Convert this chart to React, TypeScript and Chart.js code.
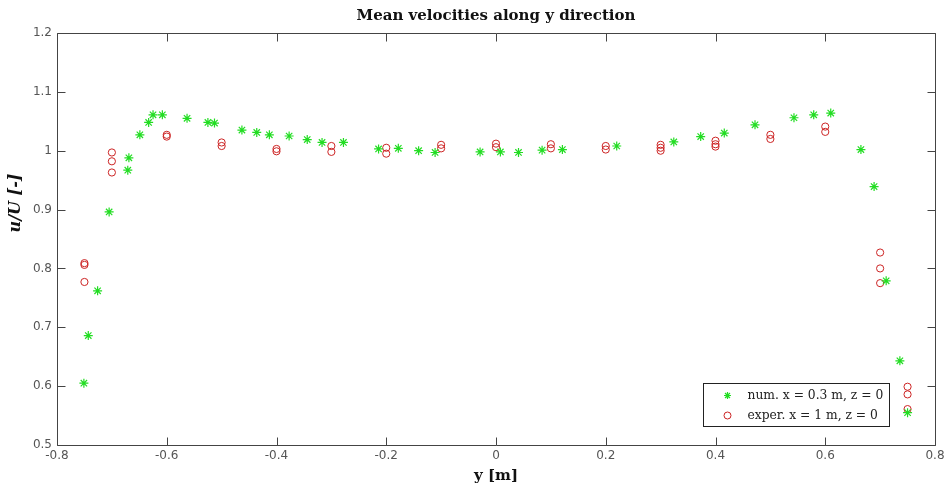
import React, { useEffect, useRef } from "react";
import { Chart, registerables } from "chart.js";
Chart.register(...registerables);

const TITLE = "Mean velocities along y direction";
const X_TITLE = "y [m]";
const Y_TITLE = "u/U [-]";
const NUM_LABEL = "num. x = 0.3 m, z = 0";
const EXP_LABEL = "exper. x = 1 m, z = 0";

const numY = [-0.751, -0.743, -0.726, -0.705, -0.671, -0.669, -0.649, -0.633, -0.625, -0.608, -0.563, -0.525, -0.513, -0.463, -0.436, -0.413, -0.377, -0.344, -0.317, -0.278, -0.214, -0.178, -0.141, -0.111, -0.029, 0.008, 0.041, 0.084, 0.121, 0.22, 0.324, 0.373, 0.416, 0.472, 0.543, 0.579, 0.61, 0.665, 0.689, 0.711, 0.736, 0.75];
const numU = [0.605, 0.686, 0.762, 0.896, 0.967, 0.988, 1.027, 1.048, 1.061, 1.061, 1.055, 1.048, 1.047, 1.035, 1.031, 1.027, 1.025, 1.019, 1.014, 1.014, 1.003, 1.004, 1.0, 0.997, 0.998, 0.998, 0.997, 1.001, 1.002, 1.008, 1.015, 1.024, 1.03, 1.044, 1.056, 1.061, 1.064, 1.002, 0.939, 0.779, 0.643, 0.555];

const expY = [-0.75, -0.75, -0.75, -0.7, -0.7, -0.7, -0.6, -0.6, -0.5, -0.5, -0.4, -0.4, -0.3, -0.3, -0.2, -0.2, -0.1, -0.1, 0, 0, 0.1, 0.1, 0.2, 0.2, 0.3, 0.3, 0.3, 0.4, 0.4, 0.4, 0.5, 0.5, 0.6, 0.6, 0.7, 0.7, 0.7, 0.75, 0.75, 0.75];
const expU = [0.809, 0.806, 0.777, 0.997, 0.982, 0.963, 1.027, 1.024, 1.014, 1.008, 1.003, 0.999, 1.008, 0.998, 1.005, 0.995, 1.01, 1.004, 1.012, 1.006, 1.011, 1.004, 1.008, 1.002, 1.01, 1.005, 1.0, 1.017, 1.011, 1.007, 1.027, 1.02, 1.041, 1.032, 0.827, 0.8, 0.775, 0.599, 0.586, 0.561];

const X_MIN = -0.8, X_MAX = 0.8, X_STEP = 0.2;
const Y_MIN = 0.5, Y_MAX = 1.2, Y_STEP = 0.1;

const GREEN = "#22dd22";
const RED = "#cc2424";
const AXIS = "#444444";
const SERIF = '"DejaVu Serif", "Liberation Serif", serif';
const SANS = '"DejaVu Sans", "Liberation Sans", sans-serif';

function drawStar(ctx: CanvasRenderingContext2D, x: number, y: number, r: number) {
  ctx.beginPath();
  ctx.moveTo(x - r, y); ctx.lineTo(x + r, y);
  ctx.moveTo(x, y - r); ctx.lineTo(x, y + r);
  const d = r * Math.SQRT1_2;
  ctx.moveTo(x - d, y - d); ctx.lineTo(x + d, y + d);
  ctx.moveTo(x - d, y + d); ctx.lineTo(x + d, y - d);
  ctx.stroke();
}

const framePlugin = {
  id: "matlabFrame",
  afterDraw(chart: any) {
    const { ctx, chartArea: a, scales } = chart;
    const xs = scales.x, ys = scales.y;
    const L = Math.round(a.left) + 0.5, R = Math.round(a.right) + 0.5;
    const T = Math.round(a.top) + 0.5, B = Math.round(a.bottom) + 0.5;
    const TL = 8;
    ctx.save();
    ctx.strokeStyle = AXIS;
    ctx.lineWidth = 1;
    ctx.beginPath();
    ctx.rect(L, T, R - L, B - T);
    xs.ticks.forEach((t: any) => {
      const px = Math.round(xs.getPixelForValue(t.value)) + 0.5;
      ctx.moveTo(px, B); ctx.lineTo(px, B - TL);
      ctx.moveTo(px, T); ctx.lineTo(px, T + TL);
    });
    ys.ticks.forEach((t: any) => {
      const py = Math.round(ys.getPixelForValue(t.value)) + 0.5;
      ctx.moveTo(L, py); ctx.lineTo(L + TL, py);
      ctx.moveTo(R, py); ctx.lineTo(R - TL, py);
    });
    ctx.stroke();

    // title
    ctx.fillStyle = "#111";
    ctx.font = `bold 15px ${SERIF}`;
    ctx.textAlign = "center";
    ctx.textBaseline = "middle";
    ctx.fillText(TITLE, (a.left + a.right) / 2, 16);

    // y axis title
    ctx.save();
    ctx.translate(16, 203);
    ctx.rotate(-Math.PI / 2);
    ctx.font = `italic bold 16px ${SERIF}`;
    ctx.fillText(Y_TITLE, 0, 0);
    ctx.restore();

    // legend
    const bx = Math.round(a.right) - 232 + 0.5, by = Math.round(a.bottom) - 62 + 0.5;
    const bw = 186, bh = 43;
    ctx.fillStyle = "#fff";
    ctx.fillRect(bx, by, bw, bh);
    ctx.strokeStyle = "#222";
    ctx.strokeRect(bx, by, bw, bh);
    const mx = bx + 24;
    const y1 = by + 12, y2 = by + 32;
    ctx.strokeStyle = GREEN;
    ctx.lineWidth = 1.2;
    drawStar(ctx, mx, y1, 3.5);
    ctx.lineWidth = 1;
    ctx.strokeStyle = RED;
    ctx.beginPath();
    ctx.arc(mx, y2, 3.5, 0, Math.PI * 2);
    ctx.stroke();
    ctx.fillStyle = "#222";
    ctx.font = `12.3px ${SERIF}`;
    ctx.textAlign = "left";
    ctx.textBaseline = "middle";
    ctx.fillText(NUM_LABEL, bx + 44, y1);
    ctx.fillText(EXP_LABEL, bx + 44, y2);
    ctx.restore();
  },
};

export default function App() {
  const ref = useRef<HTMLCanvasElement | null>(null);
  useEffect(() => {
    if (!ref.current) return;
    const chart = new Chart(ref.current, {
      type: "scatter",
      data: {
        datasets: [
          {
            label: NUM_LABEL,
            data: numY.map((x, i) => ({ x, y: numU[i] })),
            pointStyle: "star",
            pointRadius: 4.5,
            borderColor: GREEN,
            backgroundColor: GREEN,
            pointBorderWidth: 1.2,
          },
          {
            label: EXP_LABEL,
            data: expY.map((x, i) => ({ x, y: expU[i] })),
            pointStyle: "circle",
            pointRadius: 3.6,
            borderColor: RED,
            backgroundColor: "rgba(0,0,0,0)",
            pointBorderWidth: 1,
          },
        ],
      },
      options: {
        responsive: false,
        animation: false,
        layout: { padding: { top: 33, right: 10, left: 0, bottom: 0 } },
        plugins: {
          legend: { display: false },
          title: { display: false },
          tooltip: { enabled: false },
        },
        scales: {
          x: {
            type: "linear",
            min: X_MIN,
            max: X_MAX,
            grid: { display: false, drawTicks: false },
            border: { display: false },
            ticks: {
              stepSize: X_STEP,
              padding: 4,
              color: "#555",
              font: { family: SANS, size: 12 },
              callback: (v: any) => String(Number(Number(v).toFixed(1))),
            },
            title: {
              display: true,
              text: X_TITLE,
              color: "#111",
              font: { family: SERIF, size: 15, weight: "bold" },
              padding: { top: 0, bottom: 3 },
            },
            afterFit: (s: any) => {
              s.height = 43;
              s.paddingLeft = 0;
              s.paddingRight = 0;
            },
          },
          y: {
            type: "linear",
            min: Y_MIN,
            max: Y_MAX,
            grid: { display: false, drawTicks: false },
            border: { display: false },
            ticks: {
              stepSize: Y_STEP,
              padding: 5,
              color: "#555",
              font: { family: SANS, size: 12 },
              callback: (v: any) => String(Number(Number(v).toFixed(1))),
            },
            afterFit: (s: any) => {
              s.width = 57;
              s.paddingTop = 0;
              s.paddingBottom = 0;
            },
          },
        },
      },
      plugins: [framePlugin],
    });
    return () => chart.destroy();
  }, []);
  return (
    <div style={{ position: "absolute", left: 0, top: 0, width: 945, height: 488, background: "#fff" }}>
      <canvas ref={ref} width={945} height={488} />
    </div>
  );
}
